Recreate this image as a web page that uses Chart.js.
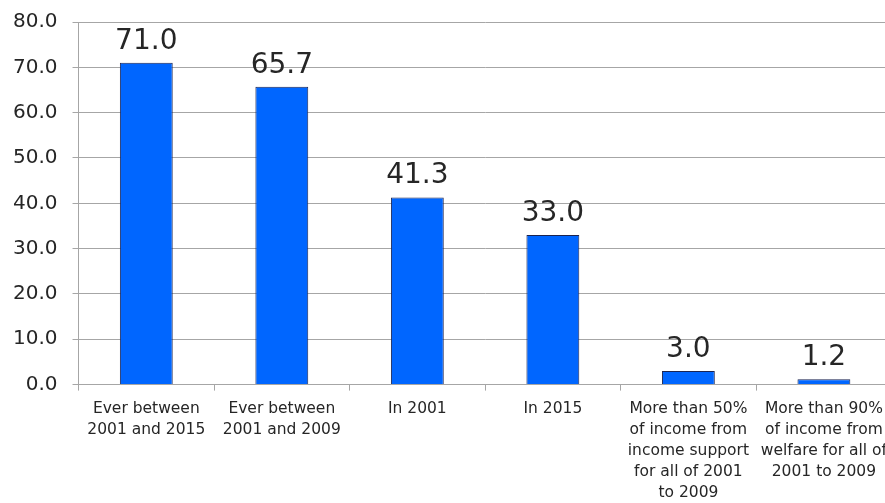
<!DOCTYPE html>
<html lang="en">
<head>
    <meta charset="UTF-8">
    <title>Welfare receipt chart</title>
    <style>
        html, body {
            margin: 0;
            padding: 0;
            background: #fff;
            overflow: hidden;
        }
        #wrap {
            width: 895px;
            height: 503px;
            position: relative;
        }
    </style>
    <script src="https://cdn.jsdelivr.net/npm/chart.js"></script>
</head>
<body>
    <div id="wrap"><canvas id="barChart"></canvas></div>

    <script>
        const categories = [
            ["Ever between", "2001 and 2015"],
            ["Ever between", "2001 and 2009"],
            ["In 2001"],
            ["In 2015"],
            ["More than 50%", "of income from", "income support", "for all of 2001", "to 2009"],
            ["More than 90%", "of income from", "welfare for all of", "2001 to 2009"]
        ];
        const percentages = [71.0, 65.7, 41.3, 33.0, 3.0, 1.2];
        const yMin = 0;
        const yMax = 80;
        const yStep = 10;

        const fontFamily = "'DejaVu Sans', Arial, sans-serif";
        const textColor = "#262626";
        const gridColor = "#a6a6a6";

        // value labels above each bar
        const valueLabels = {
            id: "valueLabels",
            afterDatasetsDraw(chart) {
                const ctx = chart.ctx;
                const meta = chart.getDatasetMeta(0);
                ctx.save();
                ctx.font = "28px " + fontFamily;
                ctx.fillStyle = textColor;
                ctx.textAlign = "center";
                ctx.textBaseline = "alphabetic";
                meta.data.forEach((bar, i) => {
                    ctx.fillText(percentages[i].toFixed(1), bar.x, bar.y - 14);
                });
                ctx.restore();
            }
        };

        let ctx = document.getElementById("barChart").getContext("2d");
        let chart = new Chart(ctx, {
            type: "bar",
            data: {
                labels: categories,
                datasets: [{
                    data: percentages,
                    backgroundColor: "#0066ff",
                    borderColor: "#1c2450",
                    borderWidth: 1,
                    categoryPercentage: 1.0,
                    barPercentage: 0.39
                }]
            },
            options: {
                responsive: true,
                maintainAspectRatio: false,
                animation: false,
                layout: { padding: { top: -2, left: -2, right: 0, bottom: -9 } },
                plugins: {
                    legend: { display: false },
                    tooltip: { enabled: false }
                },
                scales: {
                    x: {
                        offset: true,
                        grid: {
                            offset: true,
                            drawOnChartArea: false,
                            drawTicks: true,
                            tickLength: 6,
                            color: gridColor
                        },
                        border: { display: true, color: gridColor, width: 1 },
                        ticks: {
                            color: textColor,
                            font: { family: fontFamily, size: 15.5, lineHeight: 1.36 },
                            maxRotation: 0,
                            autoSkip: false,
                            padding: 8
                        }
                    },
                    y: {
                        min: yMin,
                        max: yMax,
                        grid: {
                            color: gridColor,
                            tickLength: 6
                        },
                        border: { display: true, color: gridColor, width: 1 },
                        ticks: {
                            stepSize: yStep,
                            color: textColor,
                            font: { family: fontFamily, size: 20, lineHeight: 0.7 },
                            padding: 15,
                            callback: (v) => Number(v).toFixed(1)
                        }
                    }
                }
            },
            plugins: [valueLabels]
        });
    </script>
</body>
</html>
